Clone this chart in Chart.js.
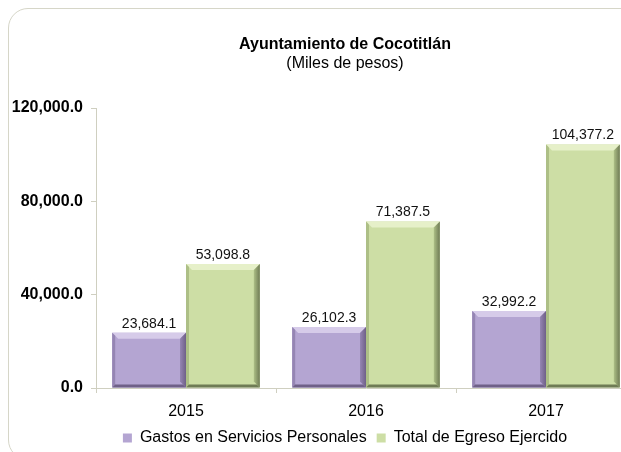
<!DOCTYPE html>
<html>
<head>
<meta charset="utf-8">
<script src="https://cdn.jsdelivr.net/npm/chart.js@4"></script>
<style>
  html, body { margin: 0; padding: 0; background: #fff; overflow: hidden; }
  #wrap { position: relative; width: 621px; height: 452px; overflow: hidden; }
  #frame { position: absolute; left: 8px; top: 8px; width: 700px; height: 450px;
           border: 1.5px solid #d6d6c8; border-radius: 20px; }
  #box { position: absolute; left: 0; top: 0; width: 690px; height: 456px; }
</style>
</head>
<body>
<div id="wrap">
  <div id="frame"></div>
  <div id="box"><canvas id="myChart" width="690" height="456"></canvas></div>
</div>
<script>
const years = ['2015', '2016', '2017'];
const gastosPersonales = [23684.1, 26102.3, 32992.2];
const egresoTotal = [53098.8, 71387.5, 104377.2];
const yTicks = [0, 40000, 80000, 120000];

const fmt = v => v.toLocaleString('en-US', { minimumFractionDigits: 1, maximumFractionDigits: 1 });
const FONT = '"Liberation Sans", Arial, sans-serif';

const faces = [
  { face: '#b4a5d2', light: '#d6cbe9', dark: '#6f6088', edge: '#9585b3' },
  { face: '#cddea5', light: '#e6f0c9', dark: '#6f7b55', edge: '#adbf86' }
];

// bevel look + value labels, drawn on top of the library's bars
const bevel = {
  id: 'bevel',
  afterDatasetsDraw(chart) {
    const c = chart.ctx;
    chart.data.datasets.forEach((ds, di) => {
      const col = faces[di];
      chart.getDatasetMeta(di).data.forEach((bar, i) => {
        const x0 = bar.x - bar.width / 2, x1 = bar.x + bar.width / 2;
        const y0 = bar.y, y1 = bar.base;
        const b = 6;
        c.save();
        c.fillStyle = col.light;
        c.beginPath();
        c.moveTo(x0, y0); c.lineTo(x1, y0); c.lineTo(x1 - b, y0 + b); c.lineTo(x0 + b, y0 + b);
        c.fill();
        c.fillStyle = col.edge;
        c.beginPath();
        c.moveTo(x0, y0); c.lineTo(x0 + 3, y0 + 3); c.lineTo(x0 + 3, y1 - 3); c.lineTo(x0, y1);
        c.fill();
        const g = c.createLinearGradient(x1 - b, 0, x1, 0);
        g.addColorStop(0, col.edge);
        g.addColorStop(1, col.dark);
        c.fillStyle = g;
        c.beginPath();
        c.moveTo(x1, y0); c.lineTo(x1, y1); c.lineTo(x1 - b, y1 - b); c.lineTo(x1 - b, y0 + b);
        c.fill();
        c.fillStyle = col.dark;
        c.beginPath();
        c.moveTo(x0, y1); c.lineTo(x1, y1); c.lineTo(x1 - 3, y1 - 3); c.lineTo(x0 + 3, y1 - 3);
        c.fill();
        c.fillStyle = '#111';
        c.font = '14px ' + FONT;
        c.textAlign = 'center';
        c.textBaseline = 'bottom';
        c.fillText(fmt(ds.data[i]), bar.x, y0 - 2);
        c.restore();
      });
    });
  }
};

const ctx = document.getElementById('myChart');

new Chart(ctx, {
  type: 'bar',
  data: {
    labels: years,
    datasets: [{
      label: 'Gastos en Servicios Personales',
      data: gastosPersonales,
      backgroundColor: faces[0].face,
      borderWidth: 0
    }, {
      label: 'Total de Egreso Ejercido',
      data: egresoTotal,
      backgroundColor: faces[1].face,
      borderWidth: 0
    }]
  },
  options: {
    responsive: false,
    animation: false,
    devicePixelRatio: 1,
    layout: { padding: 0 },
    datasets: { bar: { categoryPercentage: 0.82, barPercentage: 1.0 } },
    plugins: {
      title: {
        display: true,
        text: 'Ayuntamiento de Cocotitlán',
        color: '#000',
        font: { family: FONT, size: 16, weight: 'bold' },
        padding: { top: 35, bottom: 0 }
      },
      subtitle: {
        display: true,
        text: '(Miles de pesos)',
        color: '#000',
        font: { family: FONT, size: 16 },
        padding: { top: 0, bottom: 34.6 }
      },
      legend: {
        position: 'bottom',
        labels: {
          color: '#000',
          font: { family: FONT, size: 16 },
          boxWidth: 9,
          boxHeight: 9,
          padding: 10
        }
      },
      tooltip: { enabled: false }
    },
    scales: {
      x: {
        afterFit(scale) { scale.height = 32; },
        grid: { display: true, drawOnChartArea: false, tickLength: 5, color: '#cfcfc0', offset: true },
        border: { color: '#cfcfc0' },
        ticks: { color: '#000', padding: 9, font: { family: FONT, size: 16 } }
      },
      y: {
        min: 0,
        max: 120000,
        afterFit(scale) { scale.width = 96; },
        afterBuildTicks(scale) { scale.ticks = yTicks.map(v => ({ value: v })); },
        grid: { display: true, drawOnChartArea: false, tickLength: 5, color: '#cfcfc0' },
        border: { color: '#cfcfc0' },
        ticks: {
          color: '#000',
          padding: 8,
          font: { family: FONT, size: 16, weight: 'bold' },
          callback: v => fmt(v)
        }
      },
      // empty right margin, so the title and legend centre on the full figure
      spacer: {
        position: 'right',
        afterFit(scale) { scale.width = 54; },
        grid: { display: false },
        border: { display: false },
        ticks: { display: false }
      }
    }
  },
  plugins: [bevel]
});
</script>
</body>
</html>
